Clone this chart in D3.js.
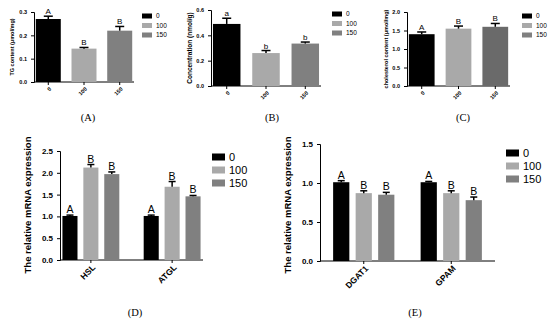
<!DOCTYPE html>
<html>
<head>
<meta charset="utf-8">
<script src="https://cdn.jsdelivr.net/npm/d3@7"></script>
<style>
  body { margin: 0; background: #fff; }
  svg { display: block; font-family: Arial, "Liberation Sans", sans-serif; }
  svg text { fill: #000; }
  .axis path, .axis line { stroke: #000; stroke-width: 1; }
  .caption { font-family: "Liberation Serif", "Times New Roman", serif; }
</style>
</head>
<body>
<div id="app"></div>
<script>
// data ---------------------------------------------------------------
var doses = ["0", "100", "150"];

// (A) TG content
var tgMean = [0.27, 0.143, 0.22];
var tgErr = [0.012, 0.005, 0.018];
var tgLetters = ["A", "B", "B"];
var tgTicks = [0, 0.1, 0.2, 0.3];

// (B) concentration
var concMean = [0.49, 0.26, 0.335];
var concErr = [0.045, 0.02, 0.012];
var concLetters = ["a", "b", "b"];
var concTicks = [0, 0.2, 0.4, 0.6];

// (C) cholesterol
var cholMean = [1.40, 1.55, 1.60];
var cholErr = [0.06, 0.07, 0.09];
var cholLetters = ["A", "B", "B"];
var cholTicks = [0, 0.5, 1.0, 1.5, 2.0];

// (D) lipolysis genes
var genesD = ["HSL", "ATGL"];
var dMean = [[1.01, 2.12, 1.97], [1.01, 1.68, 1.46]];
var dErr = [[0.02, 0.07, 0.05], [0.02, 0.12, 0.02]];
var dLetters = [["A", "B", "B"], ["A", "B", "B"]];
var dTicks = [0, 0.5, 1.0, 1.5, 2.0, 2.5];

// (E) synthesis genes
var genesE = ["DGAT1", "GPAM"];
var eMean = [[1.01, 0.87, 0.85], [1.01, 0.87, 0.78]];
var eErr = [[0.02, 0.03, 0.03], [0.01, 0.03, 0.04]];
var eLetters = [["A", "B", "B"], ["A", "B", "B"]];
var eTicks = [0, 0.5, 1.0, 1.5];

var colors = ["#000000", "#a9a9a9", "#808080"];

//canvas setup
var svg = d3.select("#app")
  .append("svg")
    .attr("width", 550)
    .attr("height", 326);

// simple axis helper
function drawAxes(g, x, y, ticks, fmt, tickFont, x0, x1) {
  g.append("g")
    .attr("class", "axis")
    .attr("transform", "translate(" + x0 + ",0)")
    .call(d3.axisLeft(y).tickValues(ticks).tickFormat(d3.format(fmt)).tickSize(3).tickSizeOuter(3))
    .call(function(a) {
      a.selectAll("text").attr("font-size", tickFont).attr("font-weight", "bold").attr("dx", "-1").attr("fill", "#000");
    });
  g.append("line")
    .attr("x1", x0).attr("x2", x1)
    .attr("y1", y(0)).attr("y2", y(0))
    .attr("stroke", "#000");
}

function drawBarsWithErr(g, rows, y, letterFont, capW) {
  // rows: {x, w, mean, err, color, letter}
  var b = g.selectAll(".bar").data(rows).enter().append("g").attr("class", "bar");
  b.append("rect")
    .attr("x", function(d) { return d.x; })
    .attr("width", function(d) { return d.w; })
    .attr("y", function(d) { return y(d.mean); })
    .attr("height", function(d) { return y(0) - y(d.mean); })
    .attr("fill", function(d) { return d.color; });
  b.append("line") //error stem
    .attr("x1", function(d) { return d.x + d.w / 2; })
    .attr("x2", function(d) { return d.x + d.w / 2; })
    .attr("y1", function(d) { return y(d.mean); })
    .attr("y2", function(d) { return y(d.mean + d.err); })
    .attr("stroke", "#000").attr("stroke-width", 1.5);
  b.append("line") //cap
    .attr("x1", function(d) { return d.x + d.w / 2 - capW / 2; })
    .attr("x2", function(d) { return d.x + d.w / 2 + capW / 2; })
    .attr("y1", function(d) { return y(d.mean + d.err); })
    .attr("y2", function(d) { return y(d.mean + d.err); })
    .attr("stroke", "#000").attr("stroke-width", 1.5);
  b.append("text")
    .text(function(d) { return d.letter; })
    .attr("x", function(d) { return d.x + d.w / 2; })
    .attr("y", function(d) { return y(d.mean + d.err) - 2; })
    .attr("text-anchor", "middle")
    .attr("fill", "#000")
    .attr("font-size", letterFont);
}

function drawLegend(g, lx, ly, dy, sw, sh, font) {
  var l = g.selectAll(".leg").data(doses).enter().append("g").attr("class", "leg")
    .attr("transform", function(d, i) { return "translate(" + lx + "," + (ly + i * dy) + ")"; });
  l.append("rect").attr("x", 0).attr("y", -sh / 2).attr("width", sw).attr("height", sh)
    .attr("fill", function(d, i) { return colors[i]; });
  l.append("text").text(function(d) { return d; })
    .attr("x", sw + 4).attr("y", 0).attr("dy", "0.35em").attr("font-size", font);
}

//---------------------------------Simple panels A, B, C-----------------------------------//
function simplePanel(opt) {
  var g = svg.append("g");
  var y = d3.scaleLinear().domain([0, opt.max]).range([opt.yb, opt.yt]);
  var x = d3.scaleBand().domain(doses).range([opt.x0, opt.x1]).paddingInner(0.3).paddingOuter(0.05);
  drawAxes(g, x, y, opt.ticks, opt.fmt, 5.5, opt.x0, opt.x1);
  var rows = doses.map(function(d, i) {
    return { x: x(d), w: x.bandwidth(), mean: opt.mean[i], err: opt.err[i], color: opt.colors[i], letter: opt.letters[i] };
  });
  drawBarsWithErr(g, rows, y, 8, 9);
  // rotated dose ticks
  doses.forEach(function(d) {
    var cx = x(d) + x.bandwidth() / 2;
    g.append("line").attr("x1", cx).attr("x2", cx).attr("y1", y(0)).attr("y2", y(0) + 3).attr("stroke", "#000");
    g.append("text").text(d)
      .attr("transform", "translate(" + (cx + 2) + "," + (y(0) + 6) + ") rotate(-45)")
      .attr("text-anchor", "end").attr("dy", "0.35em")
      .attr("font-size", 5.5).attr("font-weight", "bold");
  });
  g.append("text").text(opt.label)
    .attr("transform", "translate(" + opt.lblX + "," + ((opt.yt + opt.yb) / 2) + ") rotate(-90)")
    .attr("text-anchor", "middle").attr("font-size", opt.lblFont).attr("font-weight", "bold");
  drawLegend(g, opt.legX, opt.legY, 9.5, 10, 5, 6.5);
  g.append("text").attr("class", "caption").text(opt.caption)
    .attr("x", opt.capX).attr("y", 121).attr("text-anchor", "middle").attr("font-size", 10.5);
}

simplePanel({ x0: 34, x1: 134, yt: 12, yb: 82, max: 0.3, ticks: tgTicks, fmt: ".1f",
  mean: tgMean, err: tgErr, letters: tgLetters, colors: colors,
  label: "TG content (μmol/mg)", lblX: 14, lblFont: 5.5, legX: 142, legY: 16, caption: "(A)", capX: 88 });
simplePanel({ x0: 211, x1: 321, yt: 10, yb: 86, max: 0.6, ticks: concTicks, fmt: ".1f",
  mean: concMean, err: concErr, letters: concLetters, colors: colors,
  label: "Concentration (nmol/g)", lblX: 192, lblFont: 6.5, legX: 332, legY: 14, caption: "(B)", capX: 272 });
simplePanel({ x0: 407, x1: 510, yt: 12, yb: 86, max: 2.0, ticks: cholTicks, fmt: ".1f",
  mean: cholMean, err: cholErr, letters: cholLetters, colors: ["#000000", "#a9a9a9", "#6a6a6a"],
  label: "cholesterol content (μmol/mg)", lblX: 388, lblFont: 5.5, legX: 522, legY: 16, caption: "(C)", capX: 463 });

//---------------------------------Grouped panels D, E-----------------------------------//
function groupPanel(opt) {
  var g = svg.append("g");
  var y = d3.scaleLinear().domain([0, opt.max]).range([opt.yb, opt.yt]);
  var x = d3.scaleBand().domain(opt.genes).range([opt.x0, opt.x1]).paddingInner(opt.pin).paddingOuter(opt.pout);
  var xi = d3.scaleBand().domain(doses).range([0, x.bandwidth()]).paddingInner(0.28);
  drawAxes(g, x, y, opt.ticks, ".1f", 8, opt.x0, opt.x1);
  var rows = [];
  opt.genes.forEach(function(gene, gi) {
    doses.forEach(function(d, i) {
      rows.push({ x: x(gene) + xi(d), w: xi.bandwidth(), mean: opt.mean[gi][i], err: opt.err[gi][i],
        color: colors[i], letter: opt.letters[gi][i] });
    });
    var cx = x(gene) + x.bandwidth() / 2;
    g.append("line").attr("x1", cx).attr("x2", cx).attr("y1", y(0)).attr("y2", y(0) + 3).attr("stroke", "#000");
    g.append("text").text(gene)
      .attr("transform", "translate(" + (cx + 3) + "," + (y(0) + 6) + ") rotate(-45)")
      .attr("text-anchor", "end").attr("dy", "0.35em")
      .attr("font-size", 8.5).attr("font-weight", "bold");
  });
  drawBarsWithErr(g, rows, y, 10.5, 7);
  g.append("text").text("The relative mRNA expression")
    .attr("transform", "translate(" + opt.lblX + "," + opt.lblY + ") rotate(-90)")
    .attr("text-anchor", "middle").attr("font-size", 9.5).attr("font-weight", "bold");
  drawLegend(g, opt.legX, opt.legY, 13, 13, 7, 11);
  g.append("text").attr("class", "caption").text(opt.caption)
    .attr("x", opt.capX).attr("y", 316).attr("text-anchor", "middle").attr("font-size", 10.5);
}

groupPanel({ genes: genesD, x0: 60, x1: 203, yt: 151, yb: 260, max: 2.5, ticks: dTicks, pin: 0.3, pout: 0.03,
  mean: dMean, err: dErr, letters: dLetters, lblX: 31, lblY: 205, legX: 212, legY: 157, caption: "(D)", capX: 135 });
groupPanel({ genes: genesE, x0: 320, x1: 495, yt: 144, yb: 261, max: 1.5, ticks: eTicks, pin: 0.3, pout: 0.15,
  mean: eMean, err: eErr, letters: eLetters, lblX: 291, lblY: 205, legX: 506, legY: 153, caption: "(E)", capX: 415 });
</script>
</body>
</html>
